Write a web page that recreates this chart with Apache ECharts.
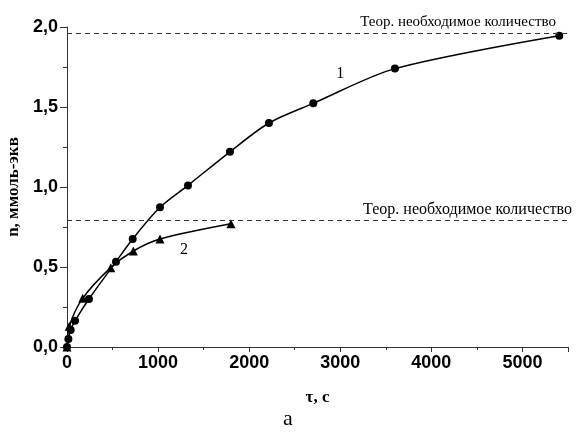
<!DOCTYPE html>
<html><head><meta charset="utf-8">
<script src="https://cdn.jsdelivr.net/npm/echarts@6/dist/echarts.min.js"></script>
<style>html,body{margin:0;padding:0;background:#fff}#c{width:576px;height:432px}</style>
</head><body><div id="c"></div>
<script>
const series1X = [0, 15, 40, 88, 241, 538, 721, 1021, 1328, 1789, 2217, 2704, 3600, 5404];
const series1Y = [0, 0.05, 0.106, 0.164, 0.30, 0.533, 0.675, 0.873, 1.01, 1.22, 1.40, 1.523, 1.74, 1.946];
const series2X = [0, 25, 172, 480, 728, 1021, 1800];
const series2Y = [0, 0.13, 0.304, 0.496, 0.60, 0.675, 0.77];
const theory1 = 1.96;
const theory2 = 0.79;
const theoryText = 'Теор. необходимое количество';
const curveLabels = [{name:'1', x:3000, y:1.71}, {name:'2', x:1285, y:0.61}];
const xTicks = {min:0, max:5500, interval:1000};
const yTicks = {min:0, max:2, interval:0.5};

const zip = (xs, ys) => xs.map((x,i)=>[x, ys[i]]);
const serif = '"Liberation Serif", "Times New Roman", serif';
const sans = '"Liberation Sans", Arial, sans-serif';

const chart = echarts.init(document.getElementById('c'));
chart.setOption({
  animation: false,
  title: {text: 'a', left: 'center', top: 403, textStyle: {fontFamily: serif, fontWeight: 'normal', fontSize: 22, color: '#000'}},
  grid: {left: 67, right: 8, top: 27, bottom: 85, containLabel: false, outerBoundsMode: 'none'},
  xAxis: {
    type: 'value', min: xTicks.min, max: xTicks.max, interval: xTicks.interval,
    name: 'τ, c', nameLocation: 'middle', nameGap: 42,
    nameTextStyle: {fontFamily: serif, fontWeight: 'bold', fontSize: 17, color: '#000'},
    axisLine: {lineStyle: {color: '#333', width: 1}},
    axisTick: {show: true, length: 5, inside: false, lineStyle: {color: '#333'}},
    minorTick: {show: true, splitNumber: 2, length: 3, lineStyle: {color: '#333'}},
    splitLine: {show: false},
    axisLabel: {fontFamily: sans, fontWeight: 'bold', fontSize: 18, color: '#000', margin: 7, showMaxLabel: false,
      formatter: v => String(v)}
  },
  yAxis: {
    type: 'value', min: yTicks.min, max: yTicks.max, interval: yTicks.interval,
    name: 'n, ммоль-экв', nameLocation: 'middle', nameGap: 39, nameRotate: 90,
    nameTextStyle: {fontFamily: serif, fontWeight: 'bold', fontSize: 17, color: '#000'},
    axisLine: {show: true, lineStyle: {color: '#333', width: 1}},
    axisTick: {show: true, length: 7, lineStyle: {color: '#333'}},
    minorTick: {show: true, splitNumber: 2, length: 4, lineStyle: {color: '#333'}},
    splitLine: {show: false},
    axisLabel: {fontFamily: sans, fontWeight: 'bold', fontSize: 18, color: '#000', margin: 9,
      formatter: v => v.toFixed(1).replace('.', ',')}
  },
  series: [
    {
      type: 'line', data: zip(series1X, series1Y), smooth: 0.3,
      symbol: 'circle', symbolSize: 8, itemStyle: {color: '#000'},
      lineStyle: {color: '#000', width: 1.5},
      markLine: {
        silent: true, symbol: 'none',
        lineStyle: {color: '#333', type: [5, 4], width: 1},
        label: {position: 'insideEndTop', formatter: theoryText, fontFamily: serif, fontSize: 15, color: '#000', distance: [12, 4]},
        data: [{yAxis: theory1}]
      },
      markPoint: {
        symbol: 'circle', symbolSize: 1, itemStyle: {color: 'transparent'},
        label: {show: true, formatter: p => p.name, fontFamily: serif, fontSize: 16, color: '#000'},
        data: curveLabels.map(d => ({name: d.name, coord: [d.x, d.y]}))
      }
    },
    {
      type: 'line', data: zip(series2X, series2Y), smooth: 0.3,
      symbol: 'triangle', symbolSize: 9, itemStyle: {color: '#000'},
      lineStyle: {color: '#000', width: 1.5},
      markLine: {
        silent: true, symbol: 'none',
        lineStyle: {color: '#333', type: [5, 4], width: 1},
        label: {position: 'insideEndTop', formatter: theoryText, fontFamily: serif, fontSize: 16, color: '#000', distance: [-4, 3]},
        data: [{yAxis: theory2}]
      }
    }
  ]
});
</script></body></html>
